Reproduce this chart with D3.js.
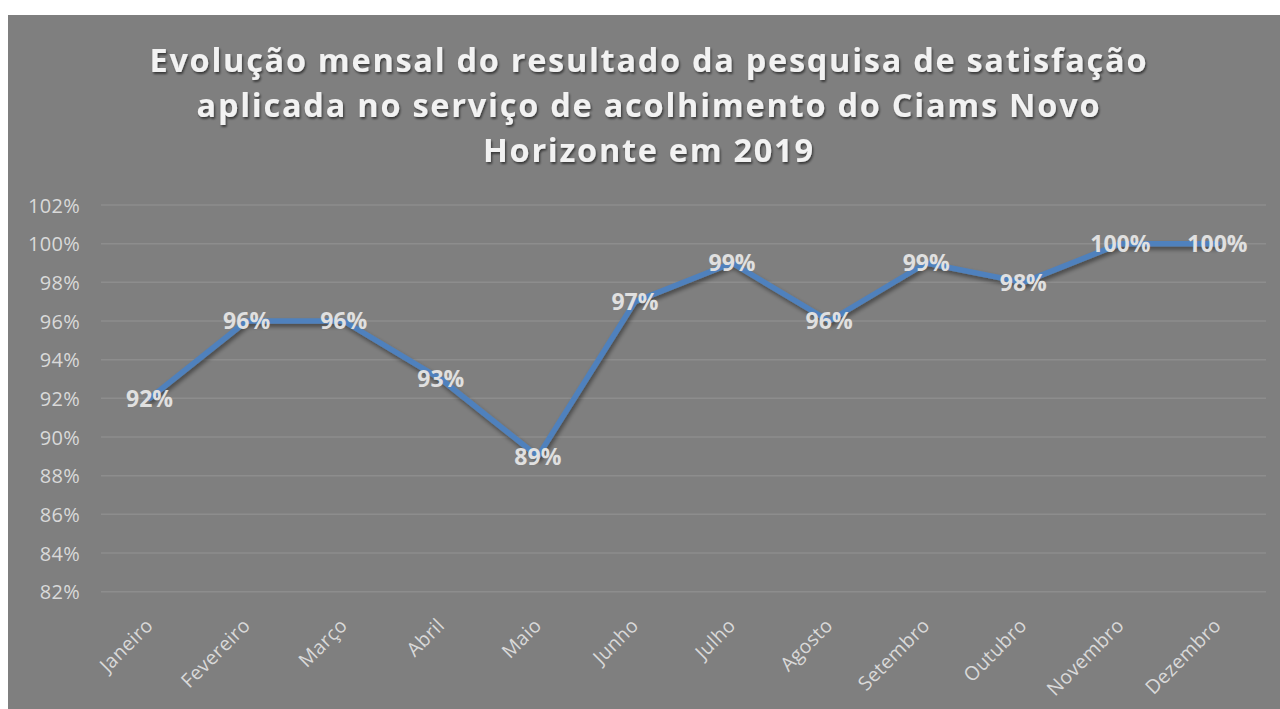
<!DOCTYPE html>
<html>
<head>
<meta charset="utf-8">
<script src="https://cdn.jsdelivr.net/npm/d3@7"></script>
<style>
html,body{margin:0;padding:0;background:#ffffff;}
svg{display:block;}
</style>
</head>
<body>
<svg id="chart" width="1280" height="709"></svg>
<script>
const months = ["Janeiro","Fevereiro","Março","Abril","Maio","Junho","Julho","Agosto","Setembro","Outubro","Novembro","Dezembro"];
const values = [92, 96, 96, 93, 89, 97, 99, 96, 99, 98, 100, 100];
const yTicks = [82, 84, 86, 88, 90, 92, 94, 96, 98, 100, 102];
const titleLines = ["Evolução mensal do resultado da pesquisa de satisfação","aplicada no serviço de acolhimento do Ciams Novo","Horizonte em 2019"];

const svg = d3.select("#chart");
const defs = svg.append("defs");
const f1 = defs.append("filter").attr("id","tshadow").attr("x","-10%").attr("y","-30%").attr("width","120%").attr("height","160%");
f1.append("feDropShadow").attr("dx",1.2).attr("dy",2).attr("stdDeviation",1.3).attr("flood-color","#000").attr("flood-opacity",0.55);
const f2 = defs.append("filter").attr("id","lshadow").attr("x","-10%").attr("y","-30%").attr("width","120%").attr("height","160%");
f2.append("feDropShadow").attr("dx",1.5).attr("dy",3).attr("stdDeviation",2.2).attr("flood-color","#000").attr("flood-opacity",0.45);

svg.append("rect").attr("x",8).attr("y",15).attr("width",1272).attr("height",694).attr("fill","#7f7f7f");

// Title
const titleWidths = [997, 903, 330];
const title = svg.append("g").attr("filter","url(#tshadow)");
titleLines.forEach((t,i)=>{
  title.append("text")
    .attr("x",648).attr("y",72 + i*45)
    .attr("text-anchor","middle")
    .attr("font-family","'Open Sans', sans-serif")
    .attr("font-weight","bold")
    .attr("font-size",32.5)
    .attr("fill","#f2f2f2")
    .attr("textLength",titleWidths[i])
    .attr("lengthAdjust","spacing")
    .text(t);
});

const x = d3.scaleBand().domain(months).range([101,1266]);
const y = d3.scaleLinear().domain([82,102]).range([591.7,205]);

// grid
svg.append("g").selectAll("line").data(yTicks).join("line")
  .attr("x1",101).attr("x2",1266)
  .attr("y1",d=>y(d)).attr("y2",d=>y(d))
  .attr("stroke","#8d8d8d").attr("stroke-width",1.5);

// y axis labels
const yAxis = d3.axisLeft(y).tickValues(yTicks).tickSize(0).tickPadding(0).tickFormat(d=>d+"%");
const yg = svg.append("g").attr("transform","translate(80,0)").call(yAxis);
yg.select(".domain").remove();
yg.selectAll("text")
  .attr("font-family","'Open Sans', sans-serif")
  .attr("font-size",20)
  .attr("letter-spacing","0.3px")
  .attr("fill","#d9d9d9")
  .attr("dy","0.36em");

// x axis labels
const xAxis = d3.axisBottom(x).tickSize(0).tickPadding(0);
const xg = svg.append("g").call(xAxis);
xg.select(".domain").remove();
xg.selectAll(".tick").attr("transform",d=>`translate(${x(d)+x.bandwidth()/2},622)`);
xg.selectAll("text")
  .attr("font-family","'Open Sans', sans-serif")
  .attr("font-size",19.5)
  .attr("letter-spacing","0.3px")
  .attr("fill","#d9d9d9")
  .attr("text-anchor","end")
  .attr("y",0).attr("dy","0.35em")
  .attr("transform","rotate(-45)");

// line
const cx = d => x(d) + x.bandwidth()/2;
const line = d3.line().x((d,i)=>cx(months[i])).y(d=>y(d));
svg.append("path").datum(values)
  .attr("d",line)
  .attr("fill","none")
  .attr("stroke","#4f81bd")
  .attr("stroke-width",5.5)
  .attr("stroke-linejoin","round")
  .attr("stroke-linecap","round")
  .attr("filter","url(#lshadow)");

// data labels
svg.append("g").selectAll("text").data(values).join("text")
  .attr("x",(d,i)=>cx(months[i]))
  .attr("y",d=>y(d))
  .attr("dy","0.36em")
  .attr("text-anchor","middle")
  .attr("font-family","'Open Sans', sans-serif")
  .attr("font-weight","bold")
  .attr("font-size",23)
  .attr("fill","#e0e0e0")
  .text(d=>d+"%");
</script>
</body>
</html>
